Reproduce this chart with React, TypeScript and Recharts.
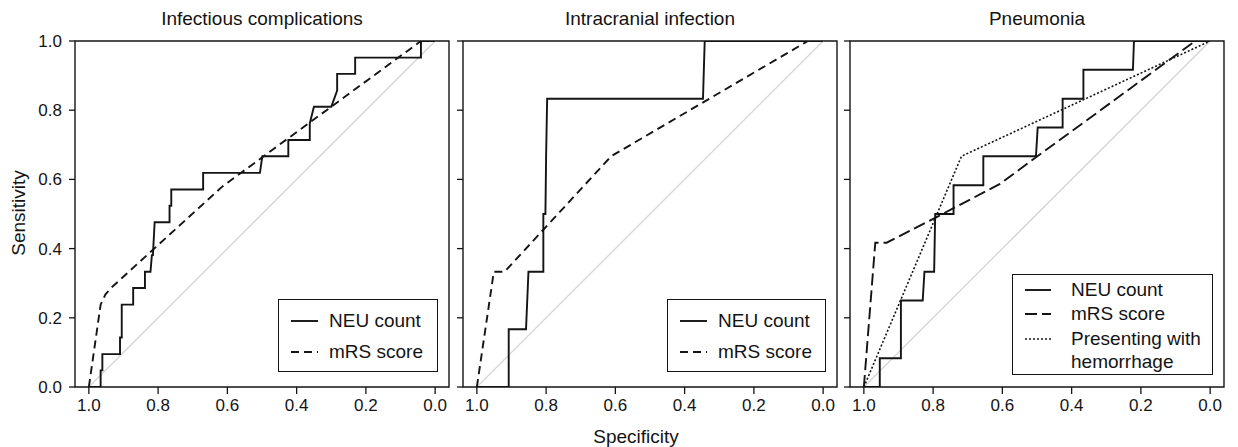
import React from "react";
import { LineChart, Line, XAxis, YAxis, ReferenceArea, Legend } from "recharts";

// axis ticks (specificity runs from 1 to 0, left to right)
const specTicks = [1, 0.8, 0.6, 0.4, 0.2, 0];
const sensTicks = [0, 0.2, 0.4, 0.6, 0.8, 1];

// reference diagonal
const chanceSpec = [1, 0];
const chanceSens = [0, 1];

// Infectious complications
const infNeuSpec = [1, 0.966, 0.966, 0.961, 0.961, 0.91, 0.91, 0.905, 0.905, 0.872, 0.872, 0.838, 0.838, 0.822, 0.818, 0.815, 0.81, 0.767, 0.767, 0.762, 0.762, 0.67, 0.67, 0.506, 0.499, 0.424, 0.424, 0.362, 0.362, 0.35, 0.3, 0.283, 0.283, 0.231, 0.231, 0.041, 0.041, 0];
const infNeuSens = [0, 0, 0.048, 0.048, 0.095, 0.095, 0.143, 0.143, 0.238, 0.238, 0.286, 0.286, 0.333, 0.333, 0.381, 0.381, 0.476, 0.476, 0.524, 0.524, 0.571, 0.571, 0.619, 0.619, 0.667, 0.667, 0.714, 0.714, 0.762, 0.81, 0.81, 0.857, 0.905, 0.905, 0.952, 0.952, 1, 1];
const infMrsSpec = [1, 0.966, 0.952, 0.934, 0.615, 0.041, 0];
const infMrsSens = [0, 0.238, 0.268, 0.288, 0.579, 1, 1];

// Intracranial infection
const icNeuSpec = [1, 0.908, 0.908, 0.858, 0.851, 0.808, 0.808, 0.802, 0.8, 0.797, 0.347, 0.342, 0];
const icNeuSens = [0, 0, 0.167, 0.167, 0.333, 0.333, 0.5, 0.5, 0.667, 0.833, 0.833, 1, 1];
const icMrsSpec = [1, 0.951, 0.92, 0.612, 0.044, 0];
const icMrsSens = [0, 0.333, 0.333, 0.667, 1, 1];

// Pneumonia
const pnNeuSpec = [1, 0.954, 0.954, 0.893, 0.893, 0.83, 0.825, 0.797, 0.794, 0.741, 0.741, 0.655, 0.655, 0.503, 0.498, 0.426, 0.426, 0.366, 0.366, 0.223, 0.22, 0];
const pnNeuSens = [0, 0, 0.083, 0.083, 0.25, 0.25, 0.333, 0.333, 0.5, 0.5, 0.583, 0.583, 0.667, 0.667, 0.75, 0.75, 0.833, 0.833, 0.917, 0.917, 1, 1];
const pnMrsSpec = [1, 0.967, 0.934, 0.794, 0.607, 0.5, 0.043, 0];
const pnMrsSens = [0, 0.417, 0.417, 0.489, 0.587, 0.666, 1, 1];
const pnHemSpec = [1, 0.718, 0];
const pnHemSens = [0, 0.667, 1];

const FONT = "'Liberation Sans', Arial, sans-serif";
const INK = "#141414";

const toPoints = (spec: number[], sens: number[]) =>
  spec.map((s, i) => ({ spec: s, sens: sens[i] }));

type Series = { name: string; spec: number[]; sens: number[]; dash?: string; width: number };

const neu = (spec: number[], sens: number[]): Series => ({ name: "NEU count", spec, sens, width: 1.9 });
const mrs = (spec: number[], sens: number[], dash: string): Series => ({ name: "mRS score", spec, sens, dash, width: 1.9 });

const panels = [
  {
    title: "Infectious complications",
    left: 0, width: 460, yw: 75, right: 11, labels: true,
    series: [neu(infNeuSpec, infNeuSens), mrs(infMrsSpec, infMrsSens, "8 5")],
    legend: { left: 278, top: 299, w: 160, h: 73, rows: [21, 52], sample: [12, 39], text: 50 },
  },
  {
    title: "Intracranial infection",
    left: 452, width: 390, yw: 11, right: 5, labels: false,
    series: [neu(icNeuSpec, icNeuSens), mrs(icMrsSpec, icMrsSens, "8 5")],
    legend: { left: 215, top: 299, w: 159, h: 73, rows: [21, 52], sample: [12, 39], text: 50 },
  },
  {
    title: "Pneumonia",
    left: 839, width: 399, yw: 11, right: 14, labels: false,
    series: [
      neu(pnNeuSpec, pnNeuSens),
      mrs(pnMrsSpec, pnMrsSens, "12 5"),
      { name: "Presenting with hemorrhage", spec: pnHemSpec, sens: pnHemSens, dash: "2 2", width: 1.6 },
    ],
    legend: { left: 173, top: 274, w: 201, h: 101, rows: [15, 38.5, 64], sample: [12, 38], text: 58 },
  },
];

function LegendBox({ payload, panel }: any) {
  const lg = panel.legend;
  const names = panel.series.map((s: Series) => s.name);
  const items = (payload || [])
    .filter((p: any) => p.type !== "none" && names.includes(p.value))
    .sort((a: any, b: any) => names.indexOf(a.value) - names.indexOf(b.value));
  return (
    <div
      style={{
        position: "relative",
        width: lg.w,
        height: lg.h,
        border: `1px solid ${INK}`,
        boxSizing: "border-box",
        background: "#fff",
        fontFamily: FONT,
        fontSize: 19,
        color: INK,
      }}
    >
      {items.map((item: any, i: number) => {
        const s = panel.series.find((x: Series) => x.name === item.value);
        const cy = lg.rows[i];
        const multi = item.value === "Presenting with hemorrhage";
        return (
          <React.Fragment key={item.value}>
            <svg
              style={{ position: "absolute", left: lg.sample[0], top: cy - 5 }}
              width={lg.sample[1] - lg.sample[0]}
              height={10}
            >
              <line x1={0} y1={5} x2={lg.sample[1] - lg.sample[0]} y2={5} stroke={INK} strokeWidth={s?.width} strokeDasharray={s?.dash} />
            </svg>
            <div style={{ position: "absolute", left: lg.text, top: cy - 11, lineHeight: "22.5px", whiteSpace: "nowrap" }}>
              {multi ? (
                <>
                  Presenting with
                  <br />
                  hemorrhage
                </>
              ) : (
                item.value
              )}
            </div>
          </React.Fragment>
        );
      })}
    </div>
  );
}

function Panel({ panel }: any) {
  return (
    <div style={{ position: "absolute", left: panel.left, top: 0 }}>
      <LineChart
        width={panel.width}
        height={447}
        margin={{ top: 41, right: panel.right, bottom: 20, left: 0 }}
      >
        <XAxis
          type="number"
          dataKey="spec"
          domain={[-0.04, 1.04]}
          reversed
          allowDataOverflow
          ticks={specTicks}
          tickFormatter={(v: number) => v.toFixed(1)}
          axisLine={false}
          tickSize={7}
          tickMargin={5}
          height={40}
          tick={{ fontSize: 17, fill: INK, fontFamily: FONT }}
          tickLine={{ stroke: INK, strokeWidth: 1.3 }}
        />
        <YAxis
          type="number"
          dataKey="sens"
          domain={[0, 1]}
          allowDataOverflow
          ticks={sensTicks}
          tickFormatter={(v: number) => (panel.labels ? v.toFixed(1) : "")}
          axisLine={false}
          width={panel.yw}
          tickSize={6}
          tickMargin={7}
          tick={{ fontSize: 17, fill: INK, fontFamily: FONT }}
          tickLine={{ stroke: INK, strokeWidth: 1.3 }}
        />
        <Line
          data={toPoints(chanceSpec, chanceSens)}
          dataKey="sens"
          type="linear"
          stroke="#d4d4d4"
          strokeWidth={1.3}
          dot={false}
          activeDot={false}
          legendType="none"
          isAnimationActive={false}
        />
        {panel.series.map((s: Series) => (
          <Line
            key={s.name}
            name={s.name}
            data={toPoints(s.spec, s.sens)}
            dataKey="sens"
            type="linear"
            stroke={INK}
            strokeWidth={s.width}
            strokeDasharray={s.dash}
            dot={false}
            activeDot={false}
            isAnimationActive={false}
          />
        ))}
        <ReferenceArea
          x1={-0.04}
          x2={1.04}
          y1={0}
          y2={1}
          fill="none"
          stroke={INK}
          strokeWidth={1.4}
          ifOverflow="visible"
        />
        <Legend
          layout="vertical"
          align="center"
          verticalAlign="middle"
          itemSorter={null as any}
          wrapperStyle={{ left: panel.legend.left, top: panel.legend.top, width: panel.legend.w, height: panel.legend.h }}
          content={(props: any) => <LegendBox payload={props.payload} panel={panel} />}
        />
      </LineChart>
      <div
        style={{
          position: "absolute",
          left: panel.yw,
          width: 374,
          top: 7,
          textAlign: "center",
          fontFamily: FONT,
          fontSize: 19,
          color: INK,
          lineHeight: "24px",
          whiteSpace: "nowrap",
        }}
      >
        {panel.title}
      </div>
    </div>
  );
}

export default function App() {
  return (
    <div style={{ position: "absolute", left: 0, top: 0, width: 1238, height: 447, background: "#fff" }}>
      {panels.map((p) => (
        <Panel key={p.title} panel={p} />
      ))}
      <div
        style={{
          position: "absolute",
          left: 636,
          top: 437,
          transform: "translate(-50%, -50%)",
          fontFamily: FONT,
          fontSize: 19,
          color: INK,
          whiteSpace: "nowrap",
        }}
      >
        Specificity
      </div>
      <div
        style={{
          position: "absolute",
          left: 19,
          top: 213,
          transform: "translate(-50%, -50%) rotate(-90deg)",
          fontFamily: FONT,
          fontSize: 19,
          color: INK,
          whiteSpace: "nowrap",
        }}
      >
        Sensitivity
      </div>
    </div>
  );
}
